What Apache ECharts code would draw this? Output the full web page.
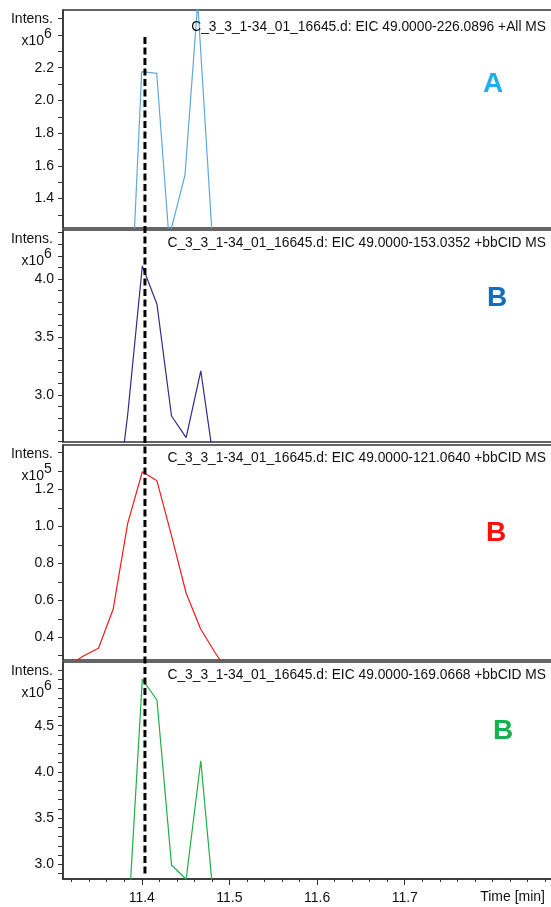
<!DOCTYPE html>
<html>
<head>
<meta charset="utf-8">
<script src="https://cdn.jsdelivr.net/npm/echarts@6/dist/echarts.min.js"></script>
<style>
  html, body { margin: 0; padding: 0; background: #fff; }
  #chart { width: 551px; height: 907px; }
</style>
</head>
<body>
<div id="chart"></div>
<script>
// ---- Scan times (min) ----
const allMsTimes = [11.3835, 11.3999, 11.4170, 11.4310, 11.4493, 11.4638, 11.4805];
const bbcidTimes = [11.3173, 11.3339, 11.3506, 11.3673, 11.3839, 11.4006,
                    11.4173, 11.4339, 11.4506, 11.4673, 11.4839, 11.5006];

// ---- EIC intensities (A, B, D in x10^6; C in x10^5) ----
const eic226 = [0.26, 2.176, 2.166, 1.16, 1.544, 2.60, 1.15];
const eic153 = [null, null, null, 1.80, 2.83, 4.112, 3.782, 2.819, 2.632, 3.209, 2.331, null];
const eic121 = [0.25, 0.30, 0.341, 0.551, 1.016, 1.295, 1.246, 0.95, 0.638, 0.443, 0.315, 0.195];
const eic169 = [null, null, null, null, 2.285, 5.002, 4.778, 2.992, 2.838, 4.121, 2.407, null];

// ---- Retention time marker ----
const markerTime = 11.4036;

// ---- Axis extents, ticks and labels ----
const timeMin = 11.3101, timeMax = 11.8703;
const timeLabels = [11.4, 11.5, 11.6, 11.7];
const timeTicks = [11.32, 11.34, 11.36, 11.38, 11.40, 11.42, 11.44, 11.46, 11.48, 11.50,
                   11.52, 11.54, 11.56, 11.58, 11.60, 11.62, 11.64, 11.66, 11.68, 11.70,
                   11.72, 11.74, 11.76, 11.78, 11.80, 11.82, 11.84, 11.86];

const yRangeA = [1.22, 2.553];
const yTicksA = [1.3, 1.4, 1.5, 1.6, 1.7, 1.8, 1.9, 2.0, 2.1, 2.2, 2.3, 2.4, 2.5];
const yLabelsA = [1.4, 1.6, 1.8, 2.0, 2.2];

const yRangeB = [2.595, 4.422];
const yTicksB = [2.6, 2.7, 2.8, 2.9, 3.0, 3.1, 3.2, 3.3, 3.4, 3.5, 3.6, 3.7, 3.8, 3.9, 4.0, 4.1, 4.2, 4.3, 4.4];
const yLabelsB = [3.0, 3.5, 4.0];

const yRangeC = [0.277, 1.4395];
const yTicksC = [0.3, 0.4, 0.5, 0.6, 0.7, 0.8, 0.9, 1.0, 1.1, 1.2, 1.3, 1.4];
const yLabelsC = [0.4, 0.6, 0.8, 1.0, 1.2];

const yRangeD = [2.841, 5.189];
const yTicksD = [2.9, 3.0, 3.1, 3.2, 3.3, 3.4, 3.5, 3.6, 3.7, 3.8, 3.9, 4.0, 4.1, 4.2, 4.3, 4.4, 4.5, 4.6, 4.7, 4.8, 4.9, 5.0, 5.1];
const yLabelsD = [3.0, 3.5, 4.0, 4.5];

// ---- Texts ----
const traceTitles = [
  'C_3_3_1-34_01_16645.d: EIC 49.0000-226.0896 +All MS',
  'C_3_3_1-34_01_16645.d: EIC 49.0000-153.0352 +bbCID MS',
  'C_3_3_1-34_01_16645.d: EIC 49.0000-121.0640 +bbCID MS',
  'C_3_3_1-34_01_16645.d: EIC 49.0000-169.0668 +bbCID MS'
];
const panelLetters = ['A', 'B', 'B', 'B'];
const exponents = ['6', '6', '5', '6'];

// ---- Drawing ----
const FONT = '"Liberation Sans", Arial, Helvetica, sans-serif';
const traceColors = ['#5fa8dc', '#2e2a8e', '#f21b1b', '#1fae48'];
const letterColors = ['#1db1ec', '#0f6fbf', '#ff0f0f', '#16b04f'];
const letterPos = [[493, 84], [497, 298], [496, 533], [503, 731]];
const titleY = [27, 243, 458, 675];

const panels = [
  { top: 10,  bottom: 228, range: yRangeA, ticks: yTicksA, labels: yLabelsA, x: allMsTimes, y: eic226 },
  { top: 230, bottom: 442, range: yRangeB, ticks: yTicksB, labels: yLabelsB, x: bbcidTimes, y: eic153 },
  { top: 445, bottom: 660, range: yRangeC, ticks: yTicksC, labels: yLabelsC, x: bbcidTimes, y: eic121 },
  { top: 662, bottom: 879, range: yRangeD, ticks: yTicksD, labels: yLabelsD, x: bbcidTimes, y: eic169 }
];

// plot area runs past the right edge of the canvas, so no right border shows
const PLOT_LEFT = 63, PLOT_WIDTH = 491;
const grid = [], xAxis = [], yAxis = [], series = [], graphic = [];

panels.forEach((p, i) => {
  grid.push({
    left: PLOT_LEFT, width: PLOT_WIDTH, top: p.top, height: p.bottom - p.top,
    outerBoundsMode: 'none', containLabel: false,
    show: true, borderColor: '#333', borderWidth: 1.5, backgroundColor: 'transparent'
  });
  xAxis.push({
    type: 'value', gridIndex: i, min: timeMin, max: timeMax, position: 'bottom',
    show: i === 3,
    axisLine: { show: true, onZero: false, lineStyle: { color: '#333', width: 1.5 } },
    axisTick: { show: true, length: 6, customValues: timeLabels, lineStyle: { color: '#333', width: 1 } },
    axisLabel: {
      show: true, customValues: timeLabels, margin: 12,
      formatter: v => v.toFixed(1), fontSize: 14, fontFamily: FONT, color: '#111'
    },
    splitLine: { show: false }
  });
  yAxis.push({
    type: 'value', gridIndex: i, min: p.range[0], max: p.range[1],
    axisLine: { show: true, onZero: false, lineStyle: { color: '#333', width: 1.5 } },
    axisTick: { show: true, length: 5, customValues: p.ticks, lineStyle: { color: '#333', width: 1 } },
    axisLabel: {
      show: true, customValues: p.labels, margin: 9,
      formatter: v => v.toFixed(1), fontSize: 14, fontFamily: FONT, color: '#111'
    },
    splitLine: { show: false }
  });
  series.push({
    type: 'line', xAxisIndex: i, yAxisIndex: i,
    data: p.x.map((t, k) => [t, p.y[k]]),
    showSymbol: false, symbol: 'none', connectNulls: false, clip: true,
    lineStyle: { color: traceColors[i], width: 1.2 }, z: 3, silent: true
  });

  // trace title
  graphic.push({
    type: 'text', x: 546, y: titleY[i], z: 20,
    style: { text: traceTitles[i], align: 'right', verticalAlign: 'middle',
             font: '13.8px ' + FONT, fill: '#111' }
  });
  // panel letter
  graphic.push({
    type: 'text', x: letterPos[i][0], y: letterPos[i][1], z: 20,
    style: { text: panelLetters[i], align: 'center', verticalAlign: 'middle',
             font: 'bold 28px ' + FONT, fill: letterColors[i] }
  });
  // intensity unit
  graphic.push({
    type: 'text', x: 53, y: p.top + 9.5, z: 20,
    style: { text: 'Intens.', align: 'right', verticalAlign: 'middle',
             font: '14px ' + FONT, fill: '#111' }
  });
  graphic.push({
    type: 'text', x: 44, y: p.top + 31.5, z: 20,
    style: { text: 'x10', align: 'right', verticalAlign: 'middle',
             font: '14px ' + FONT, fill: '#111' }
  });
  graphic.push({
    type: 'text', x: 44, y: p.top + 24, z: 20,
    style: { text: exponents[i], align: 'left', verticalAlign: 'middle',
             font: '14px ' + FONT, fill: '#111' }
  });
});

// minor time ticks on the bottom panel
xAxis.push({
  type: 'value', gridIndex: 3, min: timeMin, max: timeMax, position: 'bottom',
  axisLine: { show: false },
  axisTick: { show: true, length: 3, customValues: timeTicks, lineStyle: { color: '#333', width: 1 } },
  axisLabel: { show: false },
  splitLine: { show: false }
});

// overlay grid spanning all panels for the retention time marker
grid.push({ left: PLOT_LEFT, width: PLOT_WIDTH, top: 37, bottom: 30, show: false,
            outerBoundsMode: 'none', containLabel: false });
xAxis.push({ type: 'value', gridIndex: 4, min: timeMin, max: timeMax, show: false });
yAxis.push({ type: 'value', gridIndex: 4, min: 0, max: 1, show: false });
series.push({
  type: 'line', xAxisIndex: 5, yAxisIndex: 4,
  data: [[markerTime, 1], [markerTime, 0]],
  symbol: 'none', clip: false, silent: true, z: 10,
  lineStyle: { color: '#000', width: 3, type: [7, 3.5] }
});

graphic.push({
  type: 'text', x: 545, y: 897, z: 20,
  style: { text: 'Time [min]', align: 'right', verticalAlign: 'middle',
           font: '14px ' + FONT, fill: '#111' }
});

const chart = echarts.init(document.getElementById('chart'), null, { renderer: 'canvas' });
chart.setOption({
  animation: false,
  backgroundColor: '#fff',
  grid, xAxis, yAxis, series, graphic
});
</script>
</body>
</html>
